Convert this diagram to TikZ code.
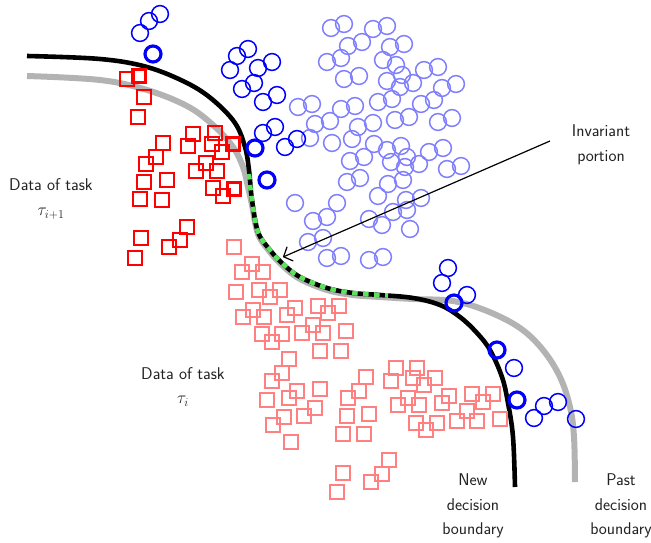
\documentclass[tikz,border=0pt]{standalone}
\usepackage{amsmath,amssymb}
\usepackage{tikz}
\usetikzlibrary{arrows.meta,positioning}
\definecolor{newblue}{HTML}{0000FF}
\definecolor{pastblue}{HTML}{8080FF}
\definecolor{newred}{HTML}{FF0000}
\definecolor{pastred}{HTML}{FF8080}
\definecolor{oldgray}{HTML}{B3B3B3}
\definecolor{keepgreen}{HTML}{5BE35B}
\definecolor{ink}{HTML}{222222}

\begin{document}
\begin{tikzpicture}[x=1pt,y=-1pt,
  pcirc/.style={circle,draw=pastblue,line width=1.5pt,minimum size=16.8pt,inner sep=0pt},
  ncirc/.style={pcirc,draw=newblue},
  kcirc/.style={ncirc,line width=3.2pt,minimum size=16pt},
  psq/.style={rectangle,draw=pastred,line width=1.6pt,minimum size=14.2pt,inner sep=0pt},
  nsq/.style={psq,draw=newred},
  ksq/.style={nsq,line width=3.2pt,minimum size=13.4pt},
  lbl/.style={align=center,font=\sffamily\fontsize{17}{24.5}\selectfont,text=ink}]
\useasboundingbox (0,0) rectangle (651,543);
% decision boundaries
\draw[oldgray,line width=6pt] plot[smooth,tension=0.6] coordinates {(27,76) (100,80) (147,90) (187,106) (213,125) (233,147) (243,167) (248,187) (252,205) (258,234) (270,252) (283,266) (300,279) (327,290) (353,295) (380,297) (413,299) (453,301) (487,311) (520,328) (543,350) (560,377) (570,407) (574,437) (575,482)};
\draw[black,line width=4.6pt] plot[smooth,tension=0.6] coordinates {(27,56) (100,59) (147,67) (187,83) (213,100) (235,123) (245,147) (249,170) (252,200) (258,232) (270,250) (283,264) (300,277) (327,288) (353,293) (380,295) (413,298) (440,305) (460,317) (477,333) (490,350) (502,377) (508,403) (513,437) (515,487)};
\draw[keepgreen,line width=4.6pt,dash pattern=on 5.5pt off 5.5pt] plot[smooth,tension=0.6] coordinates {(249,174) (252,200) (258,232) (270,250) (283,264) (300,277) (327,288) (353,293) (388,295.5)};
% old task tau_i
\foreach \x/\y [count=\i] in {331/28,344/24,373/29,387/26,348/46,362/42,390/47,404/44,327/62,341/58,383/60,396/65,402/75,344/79,359/76,387/81,400/87,413/83,424/70,438/67,442/88,456/84,298/107,312/104,341/109,355/106,378/102,392/99,421/104,434/100,395/120,409/117,438/122,452/118,315/124,330/121,358/127,373/123,310/138,332/143,352/139,374/144,387/150,401/146,429/152,443/148,350/161,364/157,391/162,407/157,405/167,419/164,447/169,461/166,347/182,360/178,388/184,403/180,378/196,295/203,337/203,313/221,327/217,369/219,382/225,393/212,406/200,421/198,407/210,410/229,308/242,323/238,327/258,341/256,369/260,383/257}
  \node[pcirc] (pc\i) at (\x,\y) {};
\foreach \x/\y [count=\i] in {234/247,252/264,242/272,263/272,236/292,259/290,280/290,270/297,253/310,243/317,264/317,287/315,295/308,318/306,339/306,328/313,313/325,302/333,323/333,346/331,262/334,282/334,272/342,320/351,341/351,289/359,282/373,272/381,267/400,289/398,297/391,320/389,315/408,304/416,284/417,273/425,291/442,366/377,359/391,348/398,347/416,369/414,343/434,364/434,389/460,382/474,371/482,343/473,337/492,396/368,391/381,417/368,413/378,435/378,424/385,408/398,398/405,419/405,442/403,449/396,472/394,493/394,483/402,467/411,457/421,477/421,416/423,437/423,426/430,500/419}
  \node[psq] (ps\i) at (\x,\y) {};
% new task tau_{i+1}
\foreach \x/\y [count=\i] in {140/33,149/21,160/14,230/70,237/56,248/49,258/68,272/62,242/89,254/83,263/102,277/95,263/133,275/127,285/147,297/139,448/268,442/283,467/295,514/368,534/418,544/406,558/402,576/419}
  \node[ncirc] (nc\i) at (\x,\y) {};
\foreach \x/\y [count=\i] in {153/54,255/148,267/180,454/303,497/350,517/400}
  \node[kcirc] (kc\i) at (\x,\y) {};
\foreach \x/\y [count=\i] in {127/79,144/97,138/117,163/143,156/157,146/164,144/182,167/180,140/199,162/200,193/134,188/146,215/133,212/144,222/152,206/163,196/171,217/171,213/188,223/196,187/227,180/240,169/247,141/238,135/258}
  \node[nsq] (ns\i) at (\x,\y) {};
\foreach \x/\y [count=\i] in {139/76,233/144,234/189}
  \node[ksq] (ks\i) at (\x,\y) {};
% labels
\node[lbl] (tasknew) at (51,199) {Data of task\\$\tau_{i+1}$};
\node[lbl] (taskold) at (183,387) {Data of task\\$\tau_i$};
\node[lbl] (inv) at (601,145) {Invariant\\portion};
\node[lbl] (newb) at (473,506) {New\\decision\\boundary};
\node[lbl] (pastb) at (621,506) {Past\\decision\\boundary};
\coordinate (invtail) at (550,141);
\coordinate (invhead) at (283,257);
\draw[-{Straight Barb[length=7pt,width=15pt,round]},line width=1.2pt] (invtail) -- (invhead);
\end{tikzpicture}
\end{document}
